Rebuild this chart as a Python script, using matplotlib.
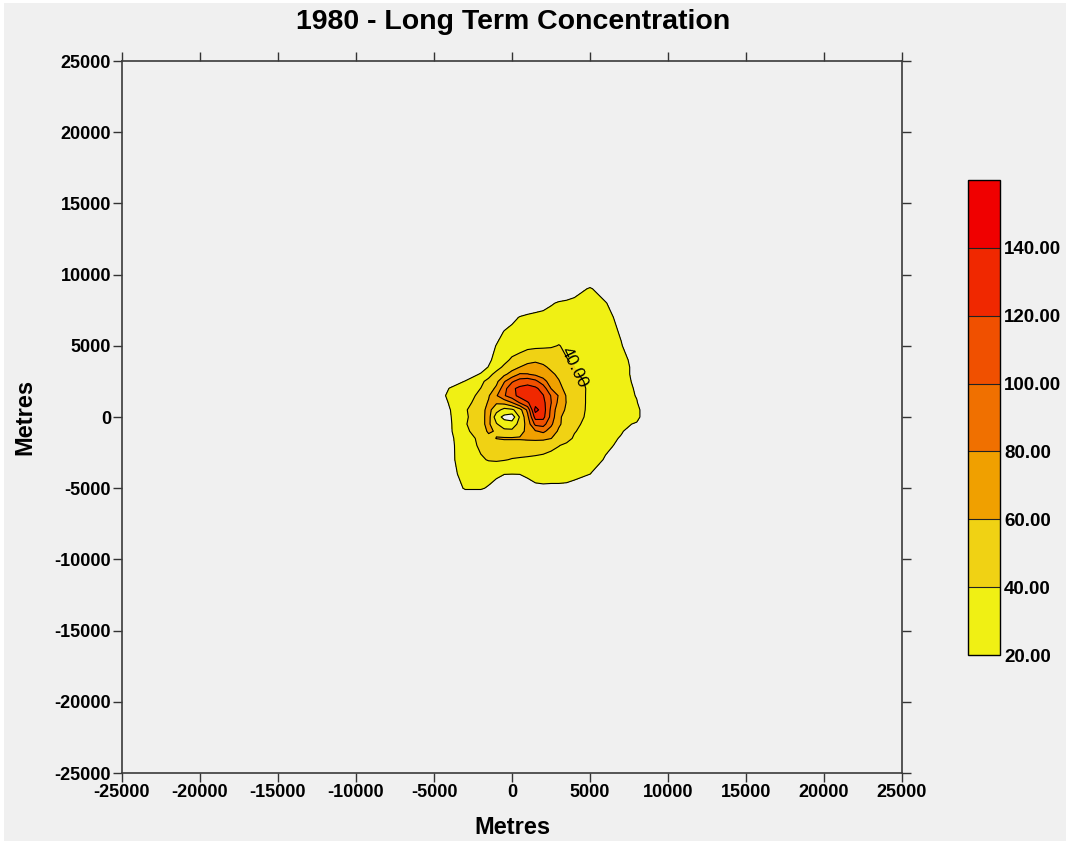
import numpy as np
import matplotlib
matplotlib.use("Agg")
import matplotlib.pyplot as plt
from matplotlib.patches import Rectangle

# ---------------- data ----------------
title = "1980 - Long Term Concentration"
x_label = "Metres"
y_label = "Metres"
x_ticks = [-25000, -20000, -15000, -10000, -5000, 0, 5000, 10000, 15000, 20000, 25000]
y_ticks = [-25000, -20000, -15000, -10000, -5000, 0, 5000, 10000, 15000, 20000, 25000]
levels = [20, 40, 60, 80, 100, 120, 140, 160]
band_colors = ["#f0f014", "#f0d214", "#f0a000", "#f07000", "#f05000", "#f02800", "#f00000"]
label_level = [40]

# receptor grid (metres)
grid_x = [-5000, -4000, -3000, -2000, -1500, -1000, -500, 0, 500, 1000, 1500,
          2000, 2500, 3000, 3500, 4000, 5000, 6000, 7000, 8000, 9000]
grid_y_top_down = [10000, 9000, 8000, 7000, 6000, 5000, 4000, 3500, 3000, 2500, 2000,
                   1500, 1000, 500, 0, -500, -1000, -1500, -2000, -3000, -4000, -5000, -6000]

# concentration rows, from y=10000 (top) down to y=-6000 (bottom)
conc_rows = [
    [0, 0, 0, 0, 0, 0, 0, 0, 0, 0, 0, 0, 0, 0, 0, 0, 0, 0, 0, 0, 0],
    [0, 0, 0, 0, 0, 0, 0, 0, 0, 0, 0, 0, 0, 2, 4, 12, 22, 10, 0, 0, 0],
    [0, 0, 0, 0, 0, 0, 0, 0, 2, 5, 8, 12, 18, 22, 24, 25, 27, 21, 8, 0, 0],
    [0, 0, 0, 0, 0, 0, 5, 15, 21, 24, 26, 27, 28, 28, 29, 29, 28, 25, 15, 3, 0],
    [0, 0, 0, 0, 2, 10, 21, 25, 28, 30, 31, 32, 33, 34, 34, 34, 32, 28, 18, 4, 0],
    [0, 0, 0, 0, 10, 21, 27, 30, 33, 35, 36, 37, 38.5, 40.5, 38, 36, 33, 28, 21, 8, 0],
    [0, 0, 0, 5, 16, 27, 35, 43, 47, 54, 57, 55, 50, 44, 40.5, 38, 34, 30, 24, 15, 0],
    [0, 0, 0, 10, 21, 34, 43, 52, 60.2, 66, 67, 63, 57, 49, 44, 40, 34, 31, 26, 15, 0],
    [0, 0, 8, 22, 35, 45, 56, 68, 82, 81, 76, 70, 63, 57, 47, 42, 35, 31, 26, 15, 0],
    [0, 8, 21, 37, 44, 55, 78, 97, 110, 114, 106, 88, 70, 61, 52, 46, 36, 32, 27, 16, 0],
    [0, 21, 32, 40.2, 50, 64, 92, 117, 124, 126, 124, 112, 80, 65, 55, 48, 37, 32, 27, 18, 0],
    [0, 27, 31, 45, 58, 78, 98, 112, 127, 133, 133, 121, 99, 78, 58, 50, 36, 33, 28, 19, 0],
    [0, 22, 33, 50, 62, 62, 66, 79, 101, 118, 132, 126, 101, 74, 59, 50, 36, 32, 27, 21, 0],
    [0, 19, 38, 53, 66, 48, 33, 36, 52, 85, 147, 130, 96, 66, 58, 49, 36, 31, 27, 25, 0],
    [0, 18, 37, 52, 68, 28, 15, 8, 42, 75, 128, 126, 94, 62, 56, 48, 35, 30, 26, 25, 0],
    [0, 17, 38, 56, 64, 42, 28, 30, 46, 68, 105, 108, 84, 63, 52, 44, 34, 29, 24, 18, 0],
    [0, 17, 36, 50, 63, 58, 46, 44, 52, 66, 78, 84, 72, 57, 48, 41, 33, 27, 21, 14, 0],
    [0, 16, 31, 45, 54, 60.5, 62, 62, 62, 63, 64, 64, 60.5, 52, 45, 38, 31, 24, 19, 8, 0],
    [0, 15, 31, 43, 47, 50, 51, 51, 51, 51, 50, 48, 44, 40.5, 37, 34, 28, 22, 18, 4, 0],
    [0, 16, 28, 38, 41, 42, 41, 39, 38, 37, 36, 35, 34, 33, 32, 30, 25, 19, 8, 0, 0],
    [0, 14, 26, 30, 28, 25, 20.5, 20.2, 20.5, 23, 25, 27, 28, 28, 28, 26, 20.2, 8, 0, 0, 0],
    [0, 8, 22, 22, 18, 10, 5, 3, 3, 13, 17, 17, 16, 16, 15, 12, 5, 0, 0, 0, 0],
    [0, 0, 0, 0, 0, 0, 0, 0, 0, 0, 0, 0, 0, 0, 0, 0, 0, 0, 0, 0, 0],
]

# ---------------- plot ----------------
plt.rcParams["font.family"] = ["Liberation Sans", "DejaVu Sans"]
plt.rcParams["axes.unicode_minus"] = False

BG = "#f0f0f0"
W, H = 1066, 841
fig = plt.figure(figsize=(W / 100, H / 100), dpi=100, facecolor=BG)
# thin white frame on the left and top edges
fig.patches.append(Rectangle((0, 0), 4 / W, 1, transform=fig.transFigure,
                             facecolor="white", edgecolor="none", zorder=50))
fig.patches.append(Rectangle((0, 1 - 3 / H), 1, 3 / H, transform=fig.transFigure,
                             facecolor="white", edgecolor="none", zorder=50))

ax = fig.add_axes([122 / W, (H - 773) / H, 780 / W, 712 / H])
ax.patch.set_visible(False)

gx = np.array(grid_x, dtype=float)
gy = np.array(grid_y_top_down[::-1], dtype=float)
Z = np.array(conc_rows[::-1], dtype=float)

cf = ax.contourf(gx, gy, Z, levels=levels, colors=band_colors)
line_levels = [v for v in levels[:-1] if v not in label_level]
ax.contour(gx, gy, Z, levels=line_levels, colors="black", linewidths=0.8)
cs40 = ax.contour(gx, gy, Z, levels=label_level, colors="black", linewidths=0.8)
lbls = ax.clabel(cs40, manual=[(3950, 3450)], fmt="%.2f",
                 fontsize=12.5, inline=True, inline_spacing=1, colors="black")
for t in lbls:
    t.set_rotation(-64)

ax.set_xlim(-25000, 25000)
ax.set_ylim(-25000, 25000)
ax.set_xticks(x_ticks)
ax.set_yticks(y_ticks)
ax.set_xticklabels([str(v) for v in x_ticks])
ax.set_yticklabels([str(v) for v in y_ticks])
ax.tick_params(direction="out", length=6.5, width=1, top=True, right=True,
               labeltop=False, labelright=False, labelsize=13, pad=1.5,
               colors="#333333", labelcolor="black")
for lab in ax.get_xticklabels() + ax.get_yticklabels():
    lab.set_fontweight("bold")
for s in ax.spines.values():
    s.set_linewidth(1.2)
    s.set_color("#3a3a3a")

fig.text(513 / W, 1 - 22 / H, title, ha="center", va="center",
         fontsize=20.5, fontweight="bold")
fig.text(512 / W, 1 - 828 / H, x_label, ha="center", va="center",
         fontsize=17, fontweight="bold")
fig.text(25 / W, 1 - 417 / H, y_label, ha="center", va="center",
         fontsize=17, fontweight="bold", rotation=90)

cax = fig.add_axes([968 / W, (H - 655) / H, 32 / W, 475 / H])
cb = fig.colorbar(cf, cax=cax, drawedges=True)
cb.set_ticks(levels[:-1])
cb.set_ticklabels([f"{v:.2f}" for v in levels[:-1]])
cb.ax.tick_params(length=0, labelsize=13.5, pad=3)
for lab in cb.ax.get_yticklabels():
    lab.set_fontweight("bold")
cb.outline.set_edgecolor("black")
cb.outline.set_linewidth(1.0)
cb.dividers.set_color("#222222")
cb.dividers.set_linewidth(0.8)

fig.savefig("out.png", dpi=100, facecolor=fig.get_facecolor())
